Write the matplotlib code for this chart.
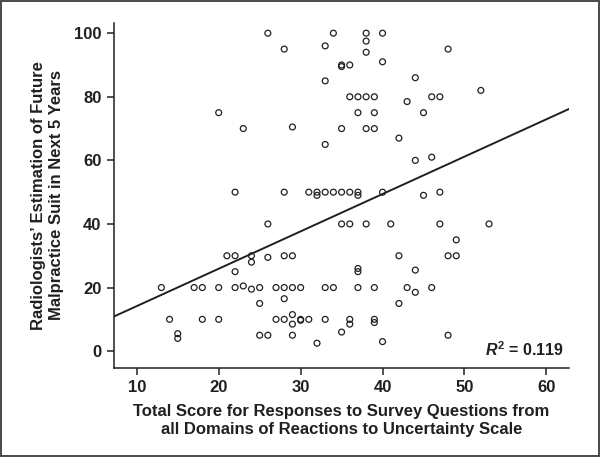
import matplotlib
matplotlib.use("Agg")
import matplotlib.pyplot as plt
from matplotlib.patches import Rectangle
import numpy as np

# Scatter data
total_score = [
    26, 34, 38, 40, 38, 28, 33, 38, 48, 35, 35, 36, 40, 33, 44, 52,
    36, 37, 38, 39, 43, 46, 47, 20, 37, 39, 45, 23, 29, 35, 38, 39,
    42, 33, 46, 44, 22, 28, 31, 32, 32, 33, 34, 35, 36, 37, 37, 40,
    45, 47, 26, 35, 36, 38, 41, 47, 53, 49, 21, 22, 24, 24, 26, 28,
    29, 42, 48, 49, 22, 37, 37, 44, 13, 17, 18, 20, 22, 23, 24, 25,
    27, 28, 29, 30, 28, 33, 34, 37, 39, 43, 44, 46, 25, 42, 14, 18,
    20, 27, 28, 29, 29, 30, 30, 31, 33, 36, 36, 39, 39, 15, 15, 25,
    26, 29, 32, 35, 40, 48,
]
malpractice_estimate = [
    100, 100, 100, 100, 97.5, 95, 96, 94, 95, 90, 89.5, 90, 91, 85, 86, 82,
    80, 80, 80, 80, 78.5, 80, 80, 75, 75, 75, 75, 70, 70.5, 70, 70, 70,
    67, 65, 61, 60, 50, 50, 50, 50, 49, 50, 50, 50, 50, 50, 49, 50,
    49, 50, 40, 40, 40, 40, 40, 40, 40, 35, 30, 30, 30, 28, 29.5, 30,
    30, 30, 30, 30, 25, 26, 25, 25.5, 20, 20, 20, 20, 20, 20.5, 19.5, 20,
    20, 20, 20, 20, 16.5, 20, 20, 20, 20, 20, 18.5, 20, 15, 15, 10, 10,
    10, 10, 10, 11.5, 8.5, 10, 9.7, 10, 10, 10, 8.5, 10, 9, 5.5, 4, 5,
    5, 5, 2.5, 6, 3, 5,
]

# Fitted regression line
fit_intercept = 2.42
fit_slope = 1.175
r_squared_label = "0.119"

x_ticks = [10, 20, 30, 40, 50, 60]
y_ticks = [0, 20, 40, 60, 80, 100]

x_label = ("Total Score for Responses to Survey Questions from\n"
           "all Domains of Reactions to Uncertainty Scale")
y_label = ("Radiologists\u2019 Estimation of Future\n"
           "Malpractice Suit in Next 5 Years")

ink = "#231f20"
plt.rcParams["font.family"] = ["Liberation Sans", "DejaVu Sans"]
plt.rcParams["font.weight"] = "bold"
plt.rcParams["mathtext.fontset"] = "custom"
plt.rcParams["mathtext.rm"] = "Liberation Sans:bold"
plt.rcParams["mathtext.it"] = "Liberation Sans:italic:bold"
plt.rcParams["mathtext.bf"] = "Liberation Sans:bold"

W, H = 601, 459
fig = plt.figure(figsize=(W / 100, H / 100), dpi=100)
fig.patch.set_facecolor("white")

left, right, top, bottom = 114, 568.5, 23, 368
ax = fig.add_axes([left / W, (H - bottom) / H, (right - left) / W, (bottom - top) / H])

xlim = (7.22, 62.7)
ylim = (-5.3, 103.2)

ax.scatter(total_score, malpractice_estimate, s=18, facecolors="none",
           edgecolors=ink, linewidths=0.9, zorder=3)

xs = np.array(xlim)
ax.plot(xs, fit_intercept + fit_slope * xs, color=ink, lw=1.4, zorder=2)

ax.set_xlim(*xlim)
ax.set_ylim(*ylim)
ax.set_xticks(x_ticks)
ax.set_yticks(y_ticks)

for s in ["top", "right"]:
    ax.spines[s].set_visible(False)
for s in ["left", "bottom"]:
    ax.spines[s].set_linewidth(1.1)
    ax.spines[s].set_color(ink)

ax.tick_params(axis="both", direction="out", length=5, width=1.1, color=ink,
               labelsize=12, labelcolor=ink, pad=4)
for lab in ax.get_xticklabels() + ax.get_yticklabels():
    lab.set_fontweight("bold")

ax.set_xlabel(x_label, fontsize=12, fontweight="bold", color=ink,
              labelpad=6, linespacing=1.25)
ax.set_ylabel(y_label, fontsize=12, fontweight="bold", color=ink,
              labelpad=7, linespacing=1.25)

ax.text(0.99, 0.035, r"$\mathit{R}^{2}$ = " + r_squared_label,
        transform=ax.transAxes, ha="right", va="baseline",
        fontsize=11.5, fontweight="bold", color=ink)

# outer frame
fig.patches.append(Rectangle((0.5 / W, 3 / H), (598.5 - 0.5) / W, (458.5 - 3) / H,
                             transform=fig.transFigure, fill=False,
                             edgecolor="#3a3a3a", linewidth=1.3, zorder=10))

fig.savefig("out.png", dpi=100, facecolor="white")
